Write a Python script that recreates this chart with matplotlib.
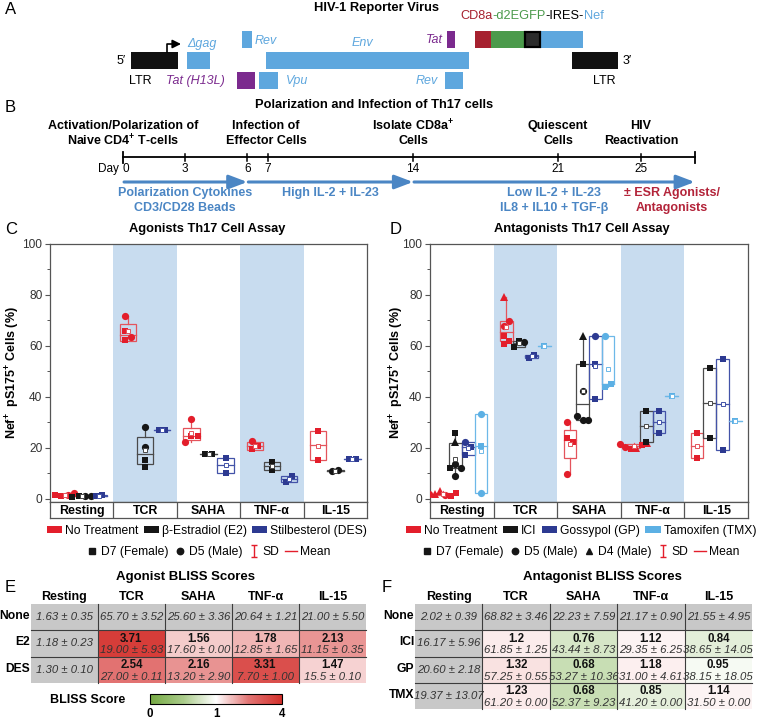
import numpy as np
import matplotlib
matplotlib.use('Agg')
import matplotlib.pyplot as plt
from matplotlib.patches import Rectangle, Patch
from matplotlib.lines import Line2D
from matplotlib.path import Path
from matplotlib.colors import LinearSegmentedColormap, TwoSlopeNorm
from matplotlib.cm import ScalarMappable

plt.rcParams['font.family'] = ['Liberation Sans', 'DejaVu Sans']
plt.rcParams['mathtext.fontset'] = 'custom'
plt.rcParams['mathtext.rm'] = 'Liberation Sans'
plt.rcParams['mathtext.it'] = 'Liberation Sans:italic'
plt.rcParams['mathtext.bf'] = 'Liberation Sans:bold'

# ----------------------------------------------------------------- data
categories = ['Resting', 'TCR', 'SAHA', 'TNF-α', 'IL-15']

# Panel C (agonists): points per category, marker per point, box (low, high, median)
c_none_vals = [[1.3, 1.5, 1.6, 2.5], [62.5, 71.6, 65.8, 63.5], [24.6, 31.5, 24.6, 22.4], [22.6, 19.6, 20.6], [26.5, 15.4]]
c_none_mk = [['s', 'o', 's', 'o'], ['s', 'o', 's', 'o'], ['s', 'o', 's', 'o'], ['o', 's', 's'], ['s', 's']]
c_none_box = [(1.4, 2.0, 1.6), (62.0, 68.6, 64.5), (23.3, 27.8, 24.6), (19.3, 22.2, 20.6), (15.4, 26.5, 21.0)]

c_e2_vals = [[1.3, 1.2, 0.9, 1.0], [20.4, 15.4, 28.2, 12.5], [17.6, 17.6], [14.5, 11.2], [10.8, 11.5]]
c_e2_mk = [['s', 'o', 's', 'o'], ['o', 's', 'o', 's'], ['s', 's'], ['s', 's'], ['o', 'o']]
c_e2_box = [(1.0, 1.3, 1.1), (13.9, 24.3, 17.8), (17.6, 17.6, 17.6), (11.2, 14.5, 12.85), (10.8, 11.5, 11.15)]

c_des_vals = [[1.2, 1.4], [27.2, 27.2], [16.1, 10.2], [6.5, 8.9], [15.7, 15.7]]
c_des_mk = [['s', 's'], ['s', 's'], ['s', 's'], ['s', 's'], ['s', 's']]
c_des_box = [(1.2, 1.4, 1.3), (27.0, 27.2, 27.1), (10.2, 16.1, 13.2), (6.5, 8.9, 7.7), (15.6, 15.8, 15.7)]

# Panel D (antagonists)
d_none_vals = [[3.2, 1.5, 2.0, 1.3, 2.1, 2.4], [79.3, 67.8, 69.8, 63.9, 60.8, 62.0], [30.3, 23.8, 22.5, 9.8],
               [19.5, 20.0, 20.5, 21.0, 21.5, 22.0], [25.8, 15.9]]
d_none_mk = [['^', 'o', '^', 's', 'o', 's'], ['^', 'o', 'o', 's', 's', 's'], ['o', 's', 's', 'o'],
             ['s', '^', 'o', 's', 'o', '^'], ['s', 's']]
d_none_box = [(1.5, 2.4, 2.0), (62.0, 69.8, 65.6), (15.9, 27.1, 23.1), (19.8, 21.5, 20.6), (15.9, 25.8, 20.9)]

d_ici_vals = [[25.8, 22.2, 13.9, 12.0, 12.0, 9.0], [62.0, 61.5, 59.5], [63.9, 52.9, 42.4, 31.0, 31.0, 32.5],
              [34.6, 22.5], [51.5, 23.8]]
d_ici_mk = [['s', '^', 'o', 'o', 's', 'o'], ['s', 'o', 's'], ['^', 's', 'o', 'o', 'o', 'o'], ['s', 's'], ['s', 's']]
d_ici_box = [(12.0, 22.1, 13.0), (59.5, 62.0, 61.0), (31.0, 52.9, 37.3), (22.5, 34.6, 28.6), (23.8, 51.5, 37.7)]

d_gp_vals = [[22.5, 20.3, 17.3], [55.4, 56.5], [63.9, 52.9, 39.1], [34.6, 25.8], [55.0, 19.2]]
d_gp_mk = [['o', 's', 's'], ['s', 's'], ['o', 's', 's'], ['s', 's'], ['s', 's']]
d_gp_box = [(17.3, 22.5, 20.3), (55.4, 56.5, 56.0), (39.1, 63.9, 52.9), (25.8, 34.6, 30.2), (19.2, 55.0, 37.1)]

d_tmx_vals = [[33.3, 20.9, 2.2], [59.8], [63.9, 44.1, 45.1], [40.2], [30.7]]
d_tmx_mk = [['o', 's', 'o'], ['s'], ['o', 's', 's'], ['s'], ['s']]
d_tmx_box = [(2.2, 33.3, 20.9), (59.8, 59.8, 59.8), (45.1, 63.9, 45.1), (40.2, 40.2, 40.2), (30.7, 30.7, 30.7)]

# Panel E / F tables
e_rows = ['None', 'E2', 'DES']
e_none_txt = ['1.63 ± 0.35', '65.70 ± 3.52', '25.60 ± 3.36', '20.64 ± 1.21', '21.00 ± 5.50']
e_rest_txt = ['1.18 ± 0.23', '1.30 ± 0.10']
e_scores = [[3.71, 1.56, 1.78, 2.13], [2.54, 2.16, 3.31, 1.47]]
e_txt = [['19.00 ± 5.93', '17.60 ± 0.00', '12.85 ± 1.65', '11.15 ± 0.35'],
         ['27.00 ± 0.11', '13.20 ± 2.90', '7.70 ± 1.00', '15.5 ± 0.10']]

f_rows = ['None', 'ICI', 'GP', 'TMX']
f_none_txt = ['2.02 ± 0.39', '68.82 ± 3.46', '22.23 ± 7.59', '21.17 ± 0.90', '21.55 ± 4.95']
f_rest_txt = ['16.17 ± 5.96', '20.60 ± 2.18', '19.37 ± 13.07']
f_scores = [[1.2, 0.76, 1.12, 0.84], [1.32, 0.68, 1.18, 0.95], [1.23, 0.68, 0.85, 1.14]]
f_txt = [['61.85 ± 1.25', '43.44 ± 8.73', '29.35 ± 6.25', '38.65 ± 14.05'],
         ['57.25 ± 0.55', '53.27 ± 10.36', '31.00 ± 4.61', '38.15 ± 18.05'],
         ['61.20 ± 0.00', '52.37 ± 9.23', '41.20 ± 0.00', '31.50 ± 0.00']]

# Panel B timeline
tl_days = [0, 3, 6, 7, 14, 21, 25]
tl_end = 27.6
ev_days = [0, 6.9, 14, 21, 25]
ev_text = [['Activation/Polarization of', 'Naive CD4$^{\\mathbf{+}}$ T-cells'],
           ['Infection of', 'Effector Cells'],
           ['Isolate CD8a$^{\\mathbf{+}}$', 'Cells'],
           ['Quiescent', 'Cells'],
           ['HIV', 'Reactivation']]
ph_start = [0, 6, 14]
ph_end = [6, 14, 27.6]
ph_text = [['Polarization Cytokines', 'CD3/CD28 Beads'], ['High IL-2 + IL-23'],
           ['Low IL-2 + IL-23', 'IL8 + IL10 + TGF-β']]
trt_day = 26.5
trt_text = ['± ESR Agonists/', 'Antagonists']

# ----------------------------------------------------------------- style
RED = '#e31e2b'; BLK = '#161616'; NAVY = '#2d3a91'; LBLUE = '#5cb0e4'
BOXC = {'r': '#e4545c', 'k': '#4a4a4a', 'n': '#4353a8', 'l': '#6db8e8'}
SHADE = '#c8dcef'
GBLUE = '#5ea7de'; PURPLE = '#7b2a8e'; CDRED = '#a6212f'; GREEN = '#4b9a4b'
ABLUE = '#4b86c4'; DRED = '#b3243a'
SPINE = '#555555'

W, H = 757, 720
fig = plt.figure(figsize=(W / 100, H / 100), dpi=100)


def px_axes(x, y, w, h):
    return fig.add_axes([x / W, 1 - (y + h) / H, w / W, h / H])


ov = px_axes(0, 0, W, H)
ov.set_xlim(0, W); ov.set_ylim(H, 0); ov.axis('off')


def T(x, y, s, **kw):
    kw.setdefault('ha', 'center'); kw.setdefault('va', 'center')
    kw.setdefault('fontsize', 8.7)
    return ov.text(x, y, s, **kw)


# panel letters
for lt, (x, y) in zip('ABCDEF', [(5, 9), (5, 108), (5, 229), (390, 229), (5, 588), (382, 588)]):
    T(x, y, lt, ha='left', fontsize=12)

# ----------------------------------------------------------------- Panel A
T(376, 8, 'HIV-1 Reporter Virus', fontsize=9.3, weight='bold')
rows_y = {'top': (31, 47.5), 'mid': (52.3, 69), 'bot': (72, 89)}
blocks = [(131, 178, 'mid', '#111111'), (187, 210, 'mid', GBLUE), (242, 252, 'top', GBLUE),
          (266, 469, 'mid', GBLUE), (237, 255, 'bot', PURPLE), (259, 278, 'bot', GBLUE),
          (447, 455, 'top', PURPLE), (445, 463, 'bot', GBLUE), (475, 491, 'top', CDRED),
          (491, 524, 'top', GREEN), (540, 583, 'top', GBLUE), (572, 618, 'mid', '#111111')]
for x0, x1, r, c in blocks:
    y0, y1 = rows_y[r]
    ov.add_patch(Rectangle((x0, y0), x1 - x0, y1 - y0, fc=c, ec='none'))
y0, y1 = rows_y['top']
ov.add_patch(Rectangle((524.7, y0 + 0.7), 15, y1 - y0 - 1.4, fc='#2b2b2b', ec='black', lw=1.6))
ov.plot([167, 167, 176], [52.3, 44, 44], color='black', lw=1.2)
ov.annotate('', xy=(181, 44), xytext=(174, 44),
            arrowprops=dict(arrowstyle='-|>,head_length=0.5,head_width=0.25', color='black', lw=1.2,
                            shrinkA=0, shrinkB=0, mutation_scale=10))
lab_kw = dict(fontsize=9, style='italic')
T(187, 44, 'Δgag', ha='left', color=GBLUE, **lab_kw)
T(255, 41, 'Rev', ha='left', color=GBLUE, **lab_kw)
T(362, 43, 'Env', color=GBLUE, **lab_kw)
T(443, 40, 'Tat', ha='right', color=PURPLE, **lab_kw)
T(195, 81, 'Tat (H13L)', color=PURPLE, **lab_kw)
T(286, 81, 'Vpu', ha='left', color=GBLUE, **lab_kw)
T(438, 81, 'Rev', ha='right', color=GBLUE, **lab_kw)
T(121, 61, '5′', fontsize=9)
T(627, 61, '3′', fontsize=9)
T(140, 81, 'LTR', fontsize=9)
T(604, 81, 'LTR', fontsize=9)

renderer = fig.canvas.get_renderer()
xx = 460
for s, c in [('CD8a', CDRED), ('-d2EGFP', GREEN), ('-IRES-', 'black'), ('Nef', GBLUE)]:
    t = T(xx, 16, s, ha='left', color=c, fontsize=9.2)
    xx += t.get_window_extent(renderer=renderer).width

# ----------------------------------------------------------------- Panel B
PXD = (413 - 123) / 14.0
axB = px_axes(0, 95, W, 150)
axB.set_xlim(-123 / PXD, (W - 123) / PXD)
axB.set_ylim(245, 95)
axB.axis('off')
axB.text(374 / PXD - 123 / PXD, 105, 'Polarization and Infection of Th17 cells', ha='center', va='center',
         fontsize=9.3, weight='bold')
axB.plot([0, tl_end], [157, 157], color='black', lw=1.3)
for dd in tl_days[1:]:
    axB.plot([dd, dd], [153.5, 160.5], color='black', lw=1.1)
    axB.text(dd, 169, str(dd), ha='center', va='center', fontsize=8.5)
for dd in [0, tl_end]:
    axB.plot([dd, dd], [151.5, 162.5], color='black', lw=1.3)
axB.text(0.15, 169, '0', ha='center', va='center', fontsize=8.5)
axB.text(-0.2, 169, 'Day', ha='right', va='center', fontsize=8.5)
for dd, lines in zip(ev_days, ev_text):
    for k, s in enumerate(lines):
        axB.text(dd, 126 + 15 * k, s, ha='center', va='center', fontsize=9, weight='bold')
for s0, s1, lines in zip(ph_start, ph_end, ph_text):
    axB.annotate('', xy=(s1, 182), xytext=(s0 + 0.05, 182),
                 arrowprops=dict(arrowstyle='-|>,head_length=1.0,head_width=0.38', color=ABLUE, lw=2.2,
                                 shrinkA=0, shrinkB=0, mutation_scale=11))
    for k, s in enumerate(lines):
        axB.text((s0 + s1) / 2, 193 + 15 * k, s, ha='center', va='center', fontsize=9, weight='bold',
                 color=ABLUE)
for k, s in enumerate(trt_text):
    axB.text(trt_day, 193 + 15 * k, s, ha='center', va='center', fontsize=9, weight='bold', color=DRED)

# ----------------------------------------------------------------- Panels C / D
sd_path = Path([(-0.5, 1), (0.5, 1), (0, 1), (0, -1), (-0.5, -1), (0.5, -1)],
               [Path.MOVETO, Path.LINETO, Path.MOVETO, Path.LINETO, Path.MOVETO, Path.LINETO])


def swarm(vals, d, thr=2.6):
    placed, xs = [], []
    cands = [0.0]
    for j in range(1, 8):
        cands += [j * d, -j * d]
    for v in vals:
        for c in cands:
            if all(not (abs(c - px) < d * 0.5 and abs(v - pv) < thr) for px, pv in placed):
                break
        placed.append((c, v)); xs.append(c)
    xs = np.array(xs)
    return xs - (xs.max() + xs.min()) / 2


def assay(rect, ylab_x, series, offsets, hw, d):
    x, y, w, h = rect
    ax = px_axes(x, y, w, h)
    ax.set_xlim(-0.5, 4.5)
    ax.set_ylim(-1.2, 100)
    ax.axvspan(0.5, 1.5, color=SHADE, lw=0, zorder=0)
    ax.axvspan(2.5, 3.5, color=SHADE, lw=0, zorder=0)
    for sp in ax.spines.values():
        sp.set_color(SPINE); sp.set_linewidth(0.9)
    ax.set_xticks([])
    ax.set_yticks(np.arange(0, 101, 20))
    ax.set_yticks(np.arange(10, 100, 20), minor=True)
    ax.tick_params(axis='y', which='major', direction='out', length=3.5, width=0.8, color=SPINE,
                   labelsize=8.6, labelcolor='#333333', pad=2)
    ax.tick_params(axis='y', which='minor', direction='out', length=2, width=0.7, color=SPINE)
    ax.set_ylabel('Nef$^{\\mathbf{+}}$  pS175$^{\\mathbf{+}}$ Cells (%)', fontsize=9, weight='bold')
    ax.yaxis.set_label_coords((ylab_x - x) / w, 0.5)
    for si, (vals_l, mk_l, box_l, col, bcol) in enumerate(series):
        for ci in range(len(categories)):
            xc = ci + offsets[si]
            lo, hi, med = box_l[ci]
            vals = np.array(vals_l[ci])
            ax.add_patch(Rectangle((xc - hw, lo), 2 * hw, hi - lo, fill=False, ec=bcol, lw=0.9, zorder=2))
            ax.plot([xc - hw, xc + hw], [med, med], color=bcol, lw=0.9, zorder=2)
            if vals.max() > hi:
                ax.plot([xc, xc], [hi, vals.max()], color=bcol, lw=0.9, zorder=2)
            if vals.min() < lo:
                ax.plot([xc, xc], [lo, vals.min()], color=bcol, lw=0.9, zorder=2)
            xs = swarm(vals, d)
            for v, m, dx in zip(vals, mk_l[ci], xs):
                ms = {'s': 4.6, 'o': 5.2, '^': 5.6}[m]
                ax.plot(xc + dx, v, marker=m, color=col, ms=ms, ls='none', zorder=3, mew=0)
            ax.plot(xc, vals.mean(), marker='s', mfc='white', mec=bcol, ms=2.6, mew=0.7, zorder=4)
    axl = px_axes(x, y + h, w, 16)
    axl.set_xlim(-0.5, 4.5); axl.set_ylim(0, 1)
    axl.set_xticks([]); axl.set_yticks([])
    for sp in axl.spines.values():
        sp.set_color(SPINE); sp.set_linewidth(0.9)
    for b in np.arange(0.5, 4, 1):
        axl.axvline(b, color=SPINE, lw=0.9)
    for ci, c in enumerate(categories):
        axl.text(ci, 0.45, c, ha='center', va='center', fontsize=8.9, weight='bold')
    return ax


axC = assay((50, 244, 317, 258), 22,
            [(c_none_vals, c_none_mk, c_none_box, RED, BOXC['r']),
             (c_e2_vals, c_e2_mk, c_e2_box, BLK, BOXC['k']),
             (c_des_vals, c_des_mk, c_des_box, NAVY, BOXC['n'])],
            [-0.27, 0.0, 0.27], 0.13, 0.1)
axD = assay((430, 244, 318, 258), 406,
            [(d_none_vals, d_none_mk, d_none_box, RED, BOXC['r']),
             (d_ici_vals, d_ici_mk, d_ici_box, BLK, BOXC['k']),
             (d_gp_vals, d_gp_mk, d_gp_box, NAVY, BOXC['n']),
             (d_tmx_vals, d_tmx_mk, d_tmx_box, LBLUE, BOXC['l'])],
            [-0.3, -0.1, 0.1, 0.3], 0.1, 0.085)

T(207, 229, 'Agonists Th17 Cell Assay', fontsize=9.3, weight='bold')
T(582, 229, 'Antagonists Th17 Cell Assay', fontsize=9.3, weight='bold')

leg_kw = dict(loc='center', frameon=False, fontsize=8.7, handletextpad=0.25, columnspacing=0.45,
              borderpad=0, borderaxespad=0)
fig.legend([Patch(fc=c, ec='none') for c in [RED, BLK, NAVY]],
           ['No Treatment', 'β-Estradiol (E2)', 'Stilbesterol (DES)'], ncol=3,
           bbox_to_anchor=(207 / W, 1 - 531 / H), handlelength=1.25, handleheight=0.45, **leg_kw)
fig.legend([Patch(fc=c, ec='none') for c in [RED, BLK, NAVY, LBLUE]],
           ['No Treatment', 'ICI', 'Gossypol (GP)', 'Tamoxifen (TMX)'], ncol=4,
           bbox_to_anchor=(581 / W, 1 - 531 / H), handlelength=1.25, handleheight=0.45, **leg_kw)
sq_h = Line2D([], [], marker='s', color=BLK, ls='none', ms=4)
ci_h = Line2D([], [], marker='o', color=BLK, ls='none', ms=4.6)
tr_h = Line2D([], [], marker='^', color=BLK, ls='none', ms=5)
sd_h = Line2D([], [], marker=sd_path, color=RED, ls='none', ms=8, mew=1.0)
mn_h = Line2D([], [], color=RED, lw=1.0)
fig.legend([sq_h, ci_h, sd_h, mn_h], ['D7 (Female)', 'D5 (Male)', 'SD', 'Mean'], ncol=4,
           bbox_to_anchor=(208 / W, 1 - 552 / H), handlelength=1.0, **leg_kw)
fig.legend([sq_h, ci_h, tr_h, sd_h, mn_h], ['D7 (Female)', 'D5 (Male)', 'D4 (Male)', 'SD', 'Mean'], ncol=5,
           bbox_to_anchor=(580 / W, 1 - 552 / H), handlelength=1.0, **leg_kw)

# ----------------------------------------------------------------- Panels E / F
cmap = LinearSegmentedColormap.from_list(
    'bliss', [(0.0, '#75a943'), (0.25, '#a9cb89'), (0.5, '#ffffff'), (0.75, '#e27473'), (1.0, '#d3302b')])
norm = TwoSlopeNorm(vmin=0, vcenter=1, vmax=4)
GRAY = '#c8c8c8'
LINE = '#3c3c3c'


def table(x0, x1, y0, rowh, title_x, title, rows, none_txt, rest_txt, scores, txts):
    ncol = len(categories)
    cw = (x1 - x0) / ncol
    nrow = len(rows)
    T(title_x, 577, title, fontsize=9.5, weight='bold')
    for j, c in enumerate(categories):
        T(x0 + cw * (j + 0.5), 597, c, fontsize=9, weight='bold')
    for i, r in enumerate(rows):
        top = y0 + i * rowh
        T(x0 - 1, top + rowh / 2 - 1, r, ha='right', fontsize=8.7, weight='bold')
        for j in range(ncol):
            cx = x0 + j * cw
            if i == 0 or j == 0:
                ov.add_patch(Rectangle((cx, top), cw, rowh, fc=GRAY, ec='none'))
                s = none_txt[j] if i == 0 else rest_txt[i - 1]
                T(cx + cw / 2, top + rowh / 2, s, fontsize=8.2, style='italic', color='#333333')
            else:
                v = scores[i - 1][j - 1]
                ov.add_patch(Rectangle((cx, top), cw, rowh, fc=cmap(norm(v)), ec='none'))
                T(cx + cw / 2, top + 8.5, f'{v:g}', fontsize=8.3, weight='bold', color='#111111')
                T(cx + cw / 2, top + 20, txts[i - 1][j - 1], fontsize=8.2, style='italic',
                  color='#333333')
    for j in range(1, ncol):
        ov.plot([x0 + j * cw] * 2, [y0, y0 + nrow * rowh], color=LINE, lw=0.8)
    for i in range(1, nrow):
        ov.plot([x0, x1], [y0 + i * rowh] * 2, color=LINE, lw=0.8)


table(31, 366, 604, 26.3, 185, 'Agonist BLISS Scores', e_rows, e_none_txt, e_rest_txt, e_scores, e_txt)
table(415, 752, 604, 26.3, 602, 'Antagonist BLISS Scores', f_rows, f_none_txt, f_rest_txt, f_scores, f_txt)

cax = px_axes(150, 694, 132, 10)
cb = fig.colorbar(ScalarMappable(norm=norm, cmap=cmap), cax=cax, orientation='horizontal', ticks=[0, 1, 4])
cb.outline.set_linewidth(0.8)
cax.tick_params(length=0, labelsize=8.3, pad=3)
for lb in cax.get_xticklabels():
    lb.set_fontweight('bold')
T(88, 700, 'BLISS Score', fontsize=9, weight='bold')

fig.savefig('out.png', dpi=100)
